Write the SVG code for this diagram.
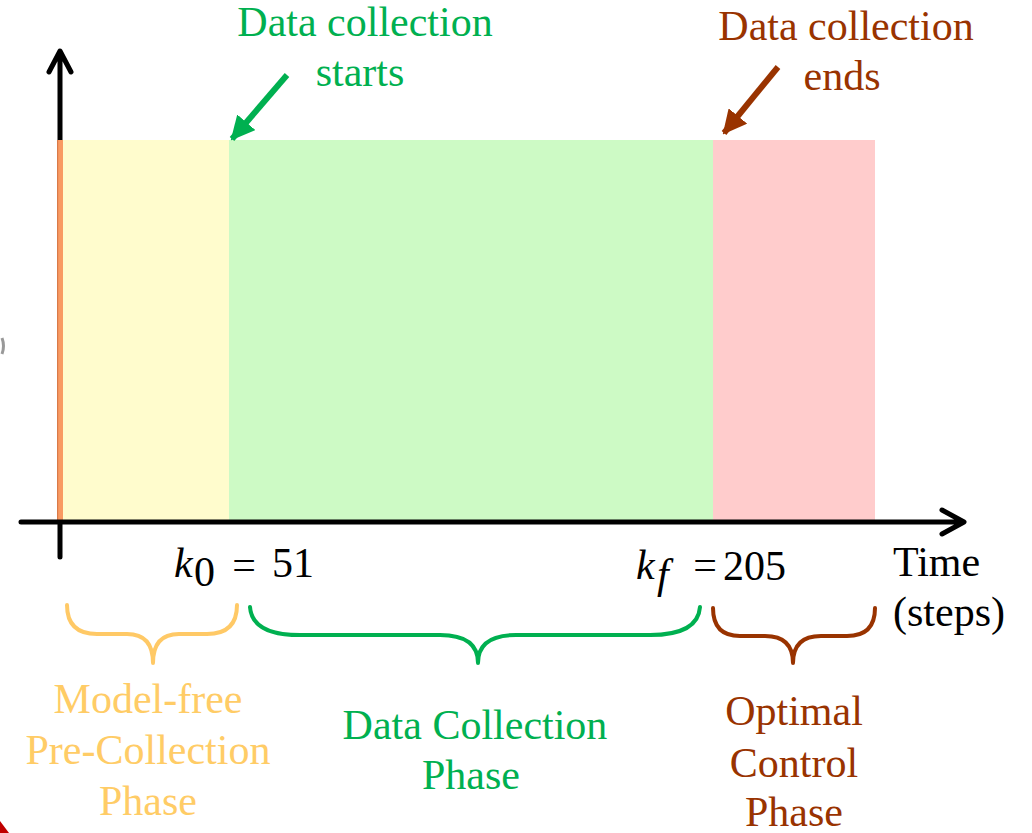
<svg xmlns="http://www.w3.org/2000/svg" width="1032" height="833" viewBox="0 0 1032 833" font-family="'Liberation Serif','DejaVu Serif',serif">
<style>
text{font-family:'Liberation Serif','DejaVu Serif',serif;font-size:42px}
.g{fill:#00B050}.b{fill:#993300}.y{fill:#FFCC66}.k{fill:#000}
.axis{stroke:#000;stroke-width:5;fill:none;stroke-linecap:round;stroke-linejoin:round}
.brace{fill:none;stroke-width:4;stroke-linecap:round;stroke-linejoin:round}
.arr{stroke-width:6;fill:none}
.m{font-style:italic}
</style>
<defs>
<marker id="hg" markerUnits="userSpaceOnUse" markerWidth="24" markerHeight="24" refX="22" refY="12" orient="auto" viewBox="0 0 24 24"><path d="M0,0 L24,12 L0,24 z" fill="#00B050"/></marker>
<marker id="hb" markerUnits="userSpaceOnUse" markerWidth="24" markerHeight="24" refX="22" refY="12" orient="auto" viewBox="0 0 24 24"><path d="M0,0 L24,12 L0,24 z" fill="#993300"/></marker>
</defs>
<rect width="1032" height="833" fill="#fff"/>
<path d="M2,338 Q5,346 2,354" stroke="#999" stroke-width="3" fill="none"/>
<polygon points="0,821 9,833 0,833" fill="#C00000"/>
<g id="y-axis">
<path class="axis" d="M60,557 L60,52 M49,72 L60,51 L71,72"/>
</g>
<g id="phases">
<rect id="pre" x="63" y="140" width="166" height="380" fill="#FFFCCD"/>
<rect id="collect" x="229" y="140" width="484" height="380" fill="#CDFAC5"/>
<rect id="optimal" x="713" y="140" width="162" height="380" fill="#FFCCCC"/>
<rect x="57" y="140" width="6" height="380" fill="#F99A62"/>
<rect x="57" y="140" width="1.2" height="380" fill="#D97A48"/>
</g>
<g id="x-axis">
<path class="axis" d="M21,522 L963,522 M942,510 L964,522 L942,534"/>
</g>
<g id="connectors">
<line class="arr" x1="287" y1="75" x2="232" y2="139" stroke="#00B050" marker-end="url(#hg)"/>
<line class="arr" x1="778" y1="67" x2="724" y2="133" stroke="#993300" marker-end="url(#hb)"/>
</g>
<g id="label-start">
<text class="g" x="365" y="36" text-anchor="middle">Data collection</text>
<text class="g" x="360" y="86" text-anchor="middle">starts</text>
</g>
<g id="label-end">
<text class="b" x="846" y="40" text-anchor="middle">Data collection</text>
<text class="b" x="842" y="90" text-anchor="middle">ends</text>
</g>
<g id="k0">
<text class="k m" x="174" y="577" font-size="44">k</text>
<text class="k" x="194" y="586" font-size="28">0</text>
<text class="k" x="244" y="579" font-size="52" text-anchor="middle">=</text>
<text class="k" x="272" y="577" font-size="44">51</text>
</g>
<g id="kf">
<text class="k m" x="636" y="579" font-size="44">k</text>
<text class="k m" x="657" y="588" font-size="28">f</text>
<text class="k" x="705" y="579" font-size="50" text-anchor="middle">=</text>
<text class="k" x="723" y="580" font-size="44">205</text>
</g>
<g id="time-label">
<text class="k" x="893" y="576" font-size="41">Time</text>
<text class="k" x="893" y="626" font-size="41">(steps)</text>
</g>
<g id="brace-pre">
<path class="brace" stroke="#FFC966" d="M67,605 Q67,634 97,634 L127,634 Q153,634 153,663 Q153,634 179,634 L207,634 Q237,634 237,605"/>
</g>
<g id="brace-collect">
<path class="brace" stroke="#00B050" d="M250,607 Q252,635 300,635 L440,635 Q478,635 478,663 Q478,635 516,635 L650,635 Q698,635 700,607"/>
</g>
<g id="brace-optimal">
<path class="brace" stroke="#993300" d="M713,608 Q713,636 740,636 L765,636 Q793,636 793,663 Q793,636 821,636 L847,636 Q875,636 875,608"/>
</g>
<g id="label-pre">
<text class="y" x="148" y="713" text-anchor="middle">Model-free</text>
<text class="y" x="148" y="764" text-anchor="middle">Pre-Collection</text>
<text class="y" x="148" y="815" text-anchor="middle">Phase</text>
</g>
<g id="label-collect">
<text class="g" x="475" y="739" text-anchor="middle">Data Collection</text>
<text class="g" x="471" y="789" text-anchor="middle">Phase</text>
</g>
<g id="label-optimal">
<text class="b" x="794" y="725" text-anchor="middle">Optimal</text>
<text class="b" x="794" y="777" text-anchor="middle">Control</text>
<text class="b" x="794" y="826" text-anchor="middle">Phase</text>
</g>
</svg>
